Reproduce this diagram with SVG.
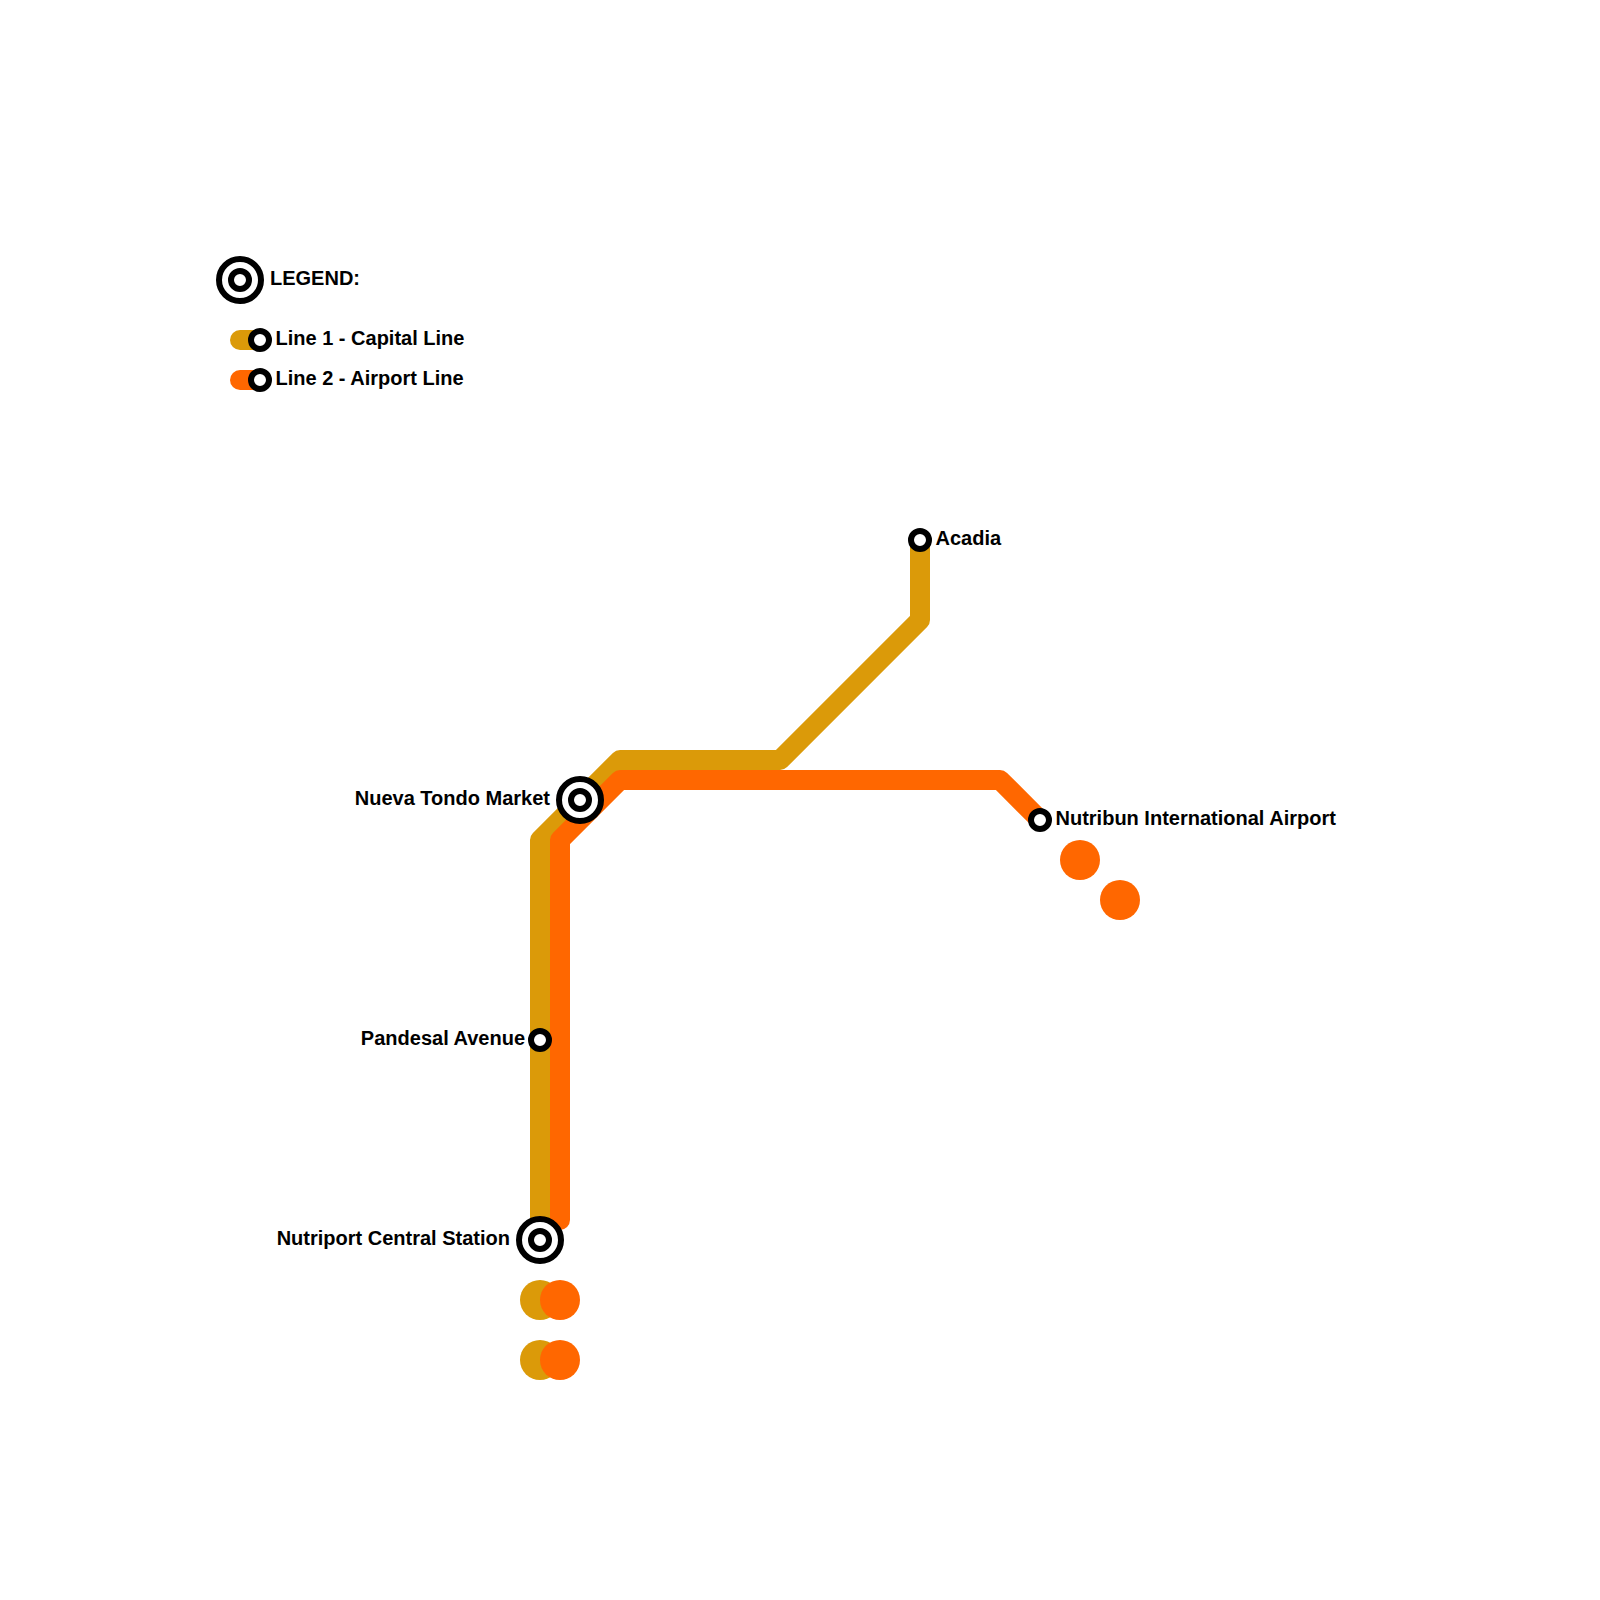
<svg xmlns="http://www.w3.org/2000/svg" width="1600" height="1600" viewBox="0 0 1600 1600">
<style>
.l{fill:none;stroke-width:20;stroke-linecap:round;stroke-linejoin:round}
.g{stroke:#db9a09}
.o{stroke:#ff6700}
.gd{fill:#db9a09}
.od{fill:#ff6700}
.s{fill:#fff;stroke:#000;stroke-width:6}
text{font-family:"Liberation Sans",Arial,sans-serif;font-weight:700;font-size:20px;fill:#000}
</style>
<rect width="1600" height="1600" fill="#fff"/>
<g id="connectors">
<path class="l g" d="M540 1240V840L620 760H780L920 620V540"/>
<path class="l o" d="M560 1220V840L620 780H1000L1040 820"/>
<path class="l g" d="M240 340H260"/>
<path class="l o" d="M240 380H260"/>
<circle class="gd" cx="540" cy="1300" r="20"/>
<circle class="od" cx="560" cy="1300" r="20"/>
<circle class="gd" cx="540" cy="1360" r="20"/>
<circle class="od" cx="560" cy="1360" r="20"/>
<circle class="od" cx="1080" cy="860" r="20"/>
<circle class="od" cx="1120" cy="900" r="20"/>
</g>
<g id="legend-title"><circle class="s" cx="240" cy="280" r="21"/><circle class="s" cx="240" cy="280" r="9"/><text x="270" y="285">LEGEND:</text></g>
<g id="legend-line1"><circle class="s" cx="260" cy="340" r="9"/><text x="275.500" y="345">Line 1 - Capital Line</text></g>
<g id="legend-line2"><circle class="s" cx="260" cy="380" r="9"/><text x="275.500" y="385">Line 2 - Airport Line</text></g>
<g id="acadia"><circle class="s" cx="920" cy="540" r="9"/><text x="935.500" y="545">Acadia</text></g>
<g id="nueva-tondo-market"><circle class="s" cx="580" cy="800" r="21"/><circle class="s" cx="580" cy="800" r="9"/><text x="550" y="805" text-anchor="end">Nueva Tondo Market</text></g>
<g id="nutribun-international-airport"><circle class="s" cx="1040" cy="820" r="9"/><text x="1055.500" y="825">Nutribun International Airport</text></g>
<g id="pandesal-avenue"><circle class="s" cx="540" cy="1040" r="9"/><text x="525" y="1045" text-anchor="end">Pandesal Avenue</text></g>
<g id="nutriport-central-station"><circle class="s" cx="540" cy="1240" r="21"/><circle class="s" cx="540" cy="1240" r="9"/><text x="510" y="1245" text-anchor="end">Nutriport Central Station</text></g>
</svg>
